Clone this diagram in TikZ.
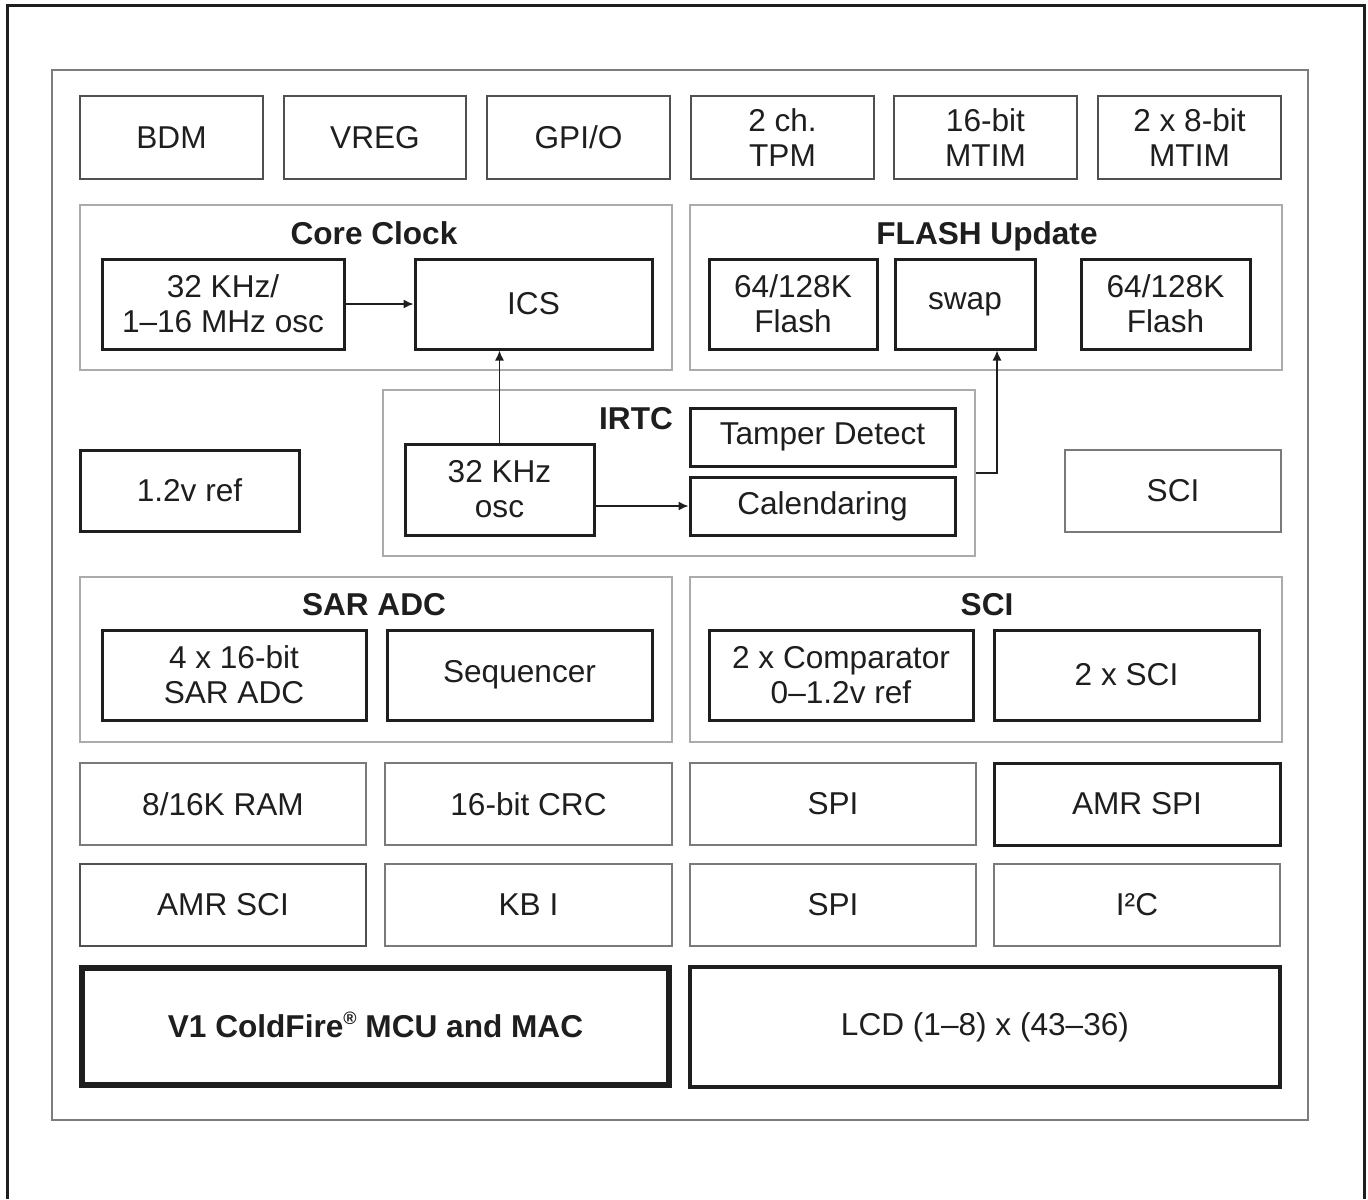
\documentclass[tikz,border=0pt]{standalone}
\usepackage{fontspec}
\setmainfont{Liberation Sans}
\usetikzlibrary{arrows.meta}
\definecolor{ink}{HTML}{1E1E1E}
\definecolor{midgray}{HTML}{505050}
\definecolor{softgray}{HTML}{7A7A7A}
\definecolor{lightgray}{HTML}{ABABAB}
\definecolor{framegray}{HTML}{7C7C7C}
\tikzset{
  cell/.style={rectangle, inner sep=0pt, align=center, text=ink,
    font=\fontsize{15.8}{17.5}\selectfont},
  toprow/.style={cell, draw=midgray, line width=1.1pt},
  blk/.style={cell, draw=ink, line width=1.5pt},
  soft/.style={cell, draw=softgray, line width=1pt},
  grp/.style={cell, draw=lightgray, line width=1pt},
  heavy/.style={cell, draw=ink, line width=3pt},
  lcdbox/.style={cell, draw=ink, line width=1.6pt},
  outer/.style={cell, draw=framegray, line width=1pt},
  ttl/.style={inner sep=0pt, anchor=base, text=ink, font=\bfseries\fontsize{15.8}{17.5}\selectfont},
  arr/.style={draw=ink, line width=0.7pt, -{Latex[length=5pt,width=4.5pt]}},
}
\newcommand\mkbox[7]{\node[#6, minimum width={(#4-#2)*0.5pt}, minimum height={(#5-#3)*0.5pt}] (#1) at ({(#2+#4)/2},{(#3+#5)/2}) {#7};}
\newcommand\regmark{\raisebox{0.8ex}{\smash{\fontsize{9}{9}\selectfont ®}}}
\begin{document}
\begin{tikzpicture}[x=0.5pt,y=-0.5pt]
\useasboundingbox (0,0) rectangle (1368,1199);
\draw[ink, line width=1.5pt] (7,1199) -- (7,5) -- (1364,5) -- (1364,1199);
\mkbox{frame}{52}{70}{1308}{1120}{outer}{}
% row 1
\mkbox{bdm}{80}{96}{263}{179}{toprow}{BDM}
\mkbox{vreg}{284}{96}{466}{179}{toprow}{VREG}
\mkbox{gpio}{487}{96}{670}{179}{toprow}{GPI/O}
\mkbox{tpm}{691}{96}{874}{179}{toprow}{2 ch.\\TPM}
\mkbox{mtimA}{894}{96}{1077}{179}{toprow}{16-bit\\MTIM}
\mkbox{mtimB}{1098}{96}{1281}{179}{toprow}{2 x 8-bit\\MTIM}
% core clock
\mkbox{coreclk}{80}{205}{672}{370}{grp}{}
\node[ttl] (coreclkT) at (374,244) {Core Clock};
\mkbox{osc}{102}{259}{344}{349}{blk}{32 KHz/\\1–16 MHz osc}
\mkbox{ics}{415}{259}{652}{349}{blk}{ICS}
% flash update
\mkbox{flashupd}{690}{205}{1282}{370}{grp}{}
\node[ttl] (flashupdT) at (987,244) {FLASH Update};
\mkbox{flA}{709}{259}{877}{349}{blk}{64/128K\\Flash}
\mkbox{swap}{895}{259}{1035}{349}{blk}{swap}
\mkbox{flB}{1081}{259}{1250}{349}{blk}{64/128K\\Flash}
% IRTC
\mkbox{irtc}{383}{390}{975}{556}{grp}{}
\node[ttl] (irtcT) at (636,429) {IRTC};
\mkbox{oscB}{405}{444}{594}{535}{blk}{32 KHz\\osc}
\mkbox{tamper}{690}{408}{955}{466}{blk}{Tamper Detect}
\mkbox{cal}{690}{477}{955}{535}{blk}{Calendaring}
\mkbox{vref}{80}{450}{299}{531}{blk}{1.2v ref}
\mkbox{sciA}{1065}{450}{1281}{532}{soft}{SCI}
% SAR ADC
\mkbox{sargrp}{80}{577}{672}{742}{grp}{}
\node[ttl] (sarT) at (374,615) {SAR ADC};
\mkbox{adc}{102}{630}{366}{720}{blk}{4 x 16-bit\\SAR ADC}
\mkbox{seq}{387}{630}{652}{720}{blk}{Sequencer}
% SCI group
\mkbox{scigrp}{690}{577}{1282}{742}{grp}{}
\node[ttl] (sciT) at (987,615) {SCI};
\mkbox{cmp}{709}{630}{973}{720}{blk}{2 x Comparator\\0–1.2v ref}
\mkbox{sciB}{994}{630}{1259}{720}{blk}{2 x SCI}
% rows
\mkbox{ram}{80}{763}{366}{845}{soft}{8/16K RAM}
\mkbox{crc}{385}{763}{672}{845}{soft}{16-bit CRC}
\mkbox{spiA}{690}{763}{976}{845}{soft}{SPI}
\mkbox{amrspi}{994}{763}{1280}{845}{blk}{AMR SPI}
\mkbox{amrsci}{80}{864}{366}{946}{toprow}{AMR SCI}
\mkbox{kbi}{385}{864}{672}{946}{soft}{KB I}
\mkbox{spiB}{690}{864}{976}{946}{soft}{SPI}
\mkbox{iic}{994}{864}{1280}{946}{soft}{I²C}
\mkbox{mcu}{82}{968}{669}{1085}{heavy}{\textbf{V1 ColdFire\regmark\ MCU and MAC}}
\mkbox{lcd}{690}{967}{1280}{1087}{lcdbox}{LCD (1–8) x (43–36)}
% connectors
\draw[arr] (osc) -- (ics);
\draw[arr] (oscB.north) -- (oscB.north |- ics.south);
\draw[arr] (oscB.east |- cal.west) -- (cal.west);
\draw[arr] (irtc.east) -| ([xshift=16pt]swap.south);
\end{tikzpicture}
\end{document}
